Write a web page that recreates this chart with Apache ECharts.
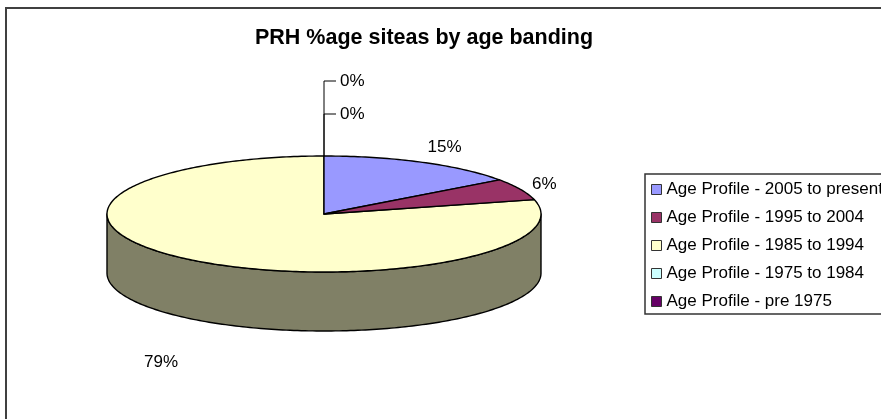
<!DOCTYPE html>
<html>
<head>
<meta charset="utf-8">
<style>html,body{margin:0;padding:0;background:#fff}#c{width:881px;height:419px}</style>
<script src="https://cdn.jsdelivr.net/npm/echarts@6/dist/echarts.min.js"></script>
</head>
<body>
<div id="c"></div>
<script>
const titleText = 'PRH %age siteas by age banding';
const categories = ['Age Profile - 2005 to present','Age Profile - 1995 to 2004','Age Profile - 1985 to 1994','Age Profile - 1975 to 1984','Age Profile - pre 1975'];
const values = [15, 6, 79, 0, 0];
const colors = ['#9999FF','#993366','#FFFFCC','#CCFFFF','#660066'];
const wallColors = ['#4D4D80','#4D1A33','#808066','#668080','#330033'];

const CX = 324, CY = 214, RX = 217, RY = 58, DEPTH = 59;
const FONT = 'Liberation Sans, Arial, sans-serif';
const labelOffsets = [[22,-15],[24,-5],[-30,43]];
const leaderTicks = [33, 0]; // distance of each zero-slice leader below the topmost one
const LEADER_TOP = 81;
const total = values.reduce((a,b)=>a+b,0);
const starts = values.map((_,i)=>values.slice(0,i).reduce((a,b)=>a+b,0));

function pt(deg, dy){
  const r = deg*Math.PI/180;
  return [CX+RX*Math.sin(r), CY-RY*Math.cos(r)+(dy||0)];
}
function arc(a,b,dy){
  const pts=[]; const n=Math.max(2,Math.ceil(Math.abs(b-a)));
  for(let i=0;i<=n;i++) pts.push(pt(a+(b-a)*i/n,dy));
  return pts;
}
function renderSlice(idx){
  return function(params, api){
    const v = api.value(0);
    const a = starts[idx]/total*360, b = (starts[idx]+v)/total*360;
    const line = {stroke:'#000', lineWidth:1.4, lineJoin:'round'};
    const children = [];
    const wa = Math.max(a,90), wb = Math.min(b,270);
    if (wb>wa){
      const top = arc(wa,wb,0), bot = arc(wb,wa,DEPTH);
      children.push({type:'polygon',shape:{points:top.concat(bot)},
        style:Object.assign({fill:wallColors[idx]},line)});
    }
    if (v>0){
      children.push({type:'polygon',shape:{points:[[CX,CY]].concat(arc(a,b,0))},
        style:Object.assign({fill:colors[idx]},line)});
      const m = pt((a+b)/2, 0);
      const o = labelOffsets[idx];
      const yExtra = ((a+b)/2>90 && (a+b)/2<270) ? DEPTH : 0;
      children.push({type:'text',style:{x:m[0]+o[0],y:m[1]+o[1]+yExtra,
        text:Math.round(v/total*100)+'%',font:'17px '+FONT,fill:'#000',align:'center',verticalAlign:'middle'}});
    } else {
      const zi = idx-values.indexOf(0);
      const y = LEADER_TOP+leaderTicks[zi];
      const top = pt(0,0);
      children.push({type:'polyline',shape:{points:[[top[0],top[1]],[top[0],y],[top[0]+12,y]]},
        style:{stroke:'#000',lineWidth:1,fill:null}});
      children.push({type:'text',style:{x:top[0]+16,y:y,
        text:Math.round(v/total*100)+'%',font:'17px '+FONT,fill:'#000',align:'left',verticalAlign:'middle'}});
    }
    return {type:'group',children:children};
  };
}

// yellow slice and its wall are drawn first so the others sit on top of it
const drawOrder = [2,0,1,3,4];
const chart = echarts.init(document.getElementById('c'),null,{renderer:'canvas'});
chart.setOption({
  animation:false,
  backgroundColor:'#fff',
  title:{text:titleText,left:419,top:22,textAlign:'center',
    textStyle:{fontFamily:FONT,fontSize:21.5,fontWeight:'bold',color:'#000'}},
  legend:{
    orient:'vertical',left:645,top:174,padding:[6,8,3,6],itemGap:9,
    backgroundColor:'#fff',borderColor:'#333',borderWidth:1.5,
    icon:'rect',itemWidth:10,itemHeight:10,
    data:categories,
    itemStyle:{borderColor:'#333',borderWidth:1},
    textStyle:{fontFamily:FONT,fontSize:17,color:'#000',padding:0,height:19,lineHeight:19}
  },
  graphic:[{type:'rect',silent:true,z:-1,shape:{x:6,y:8,width:1000,height:600},
    style:{fill:'#fff',stroke:'#404040',lineWidth:2}}],
  series:categories.map((name,i)=>({
    type:'custom',name:name,coordinateSystem:'none',
    z:2+drawOrder.indexOf(i),
    itemStyle:{color:colors[i]},
    renderItem:renderSlice(i),
    data:[[values[i]]],
    silent:true
  }))
});
</script>
</body>
</html>
